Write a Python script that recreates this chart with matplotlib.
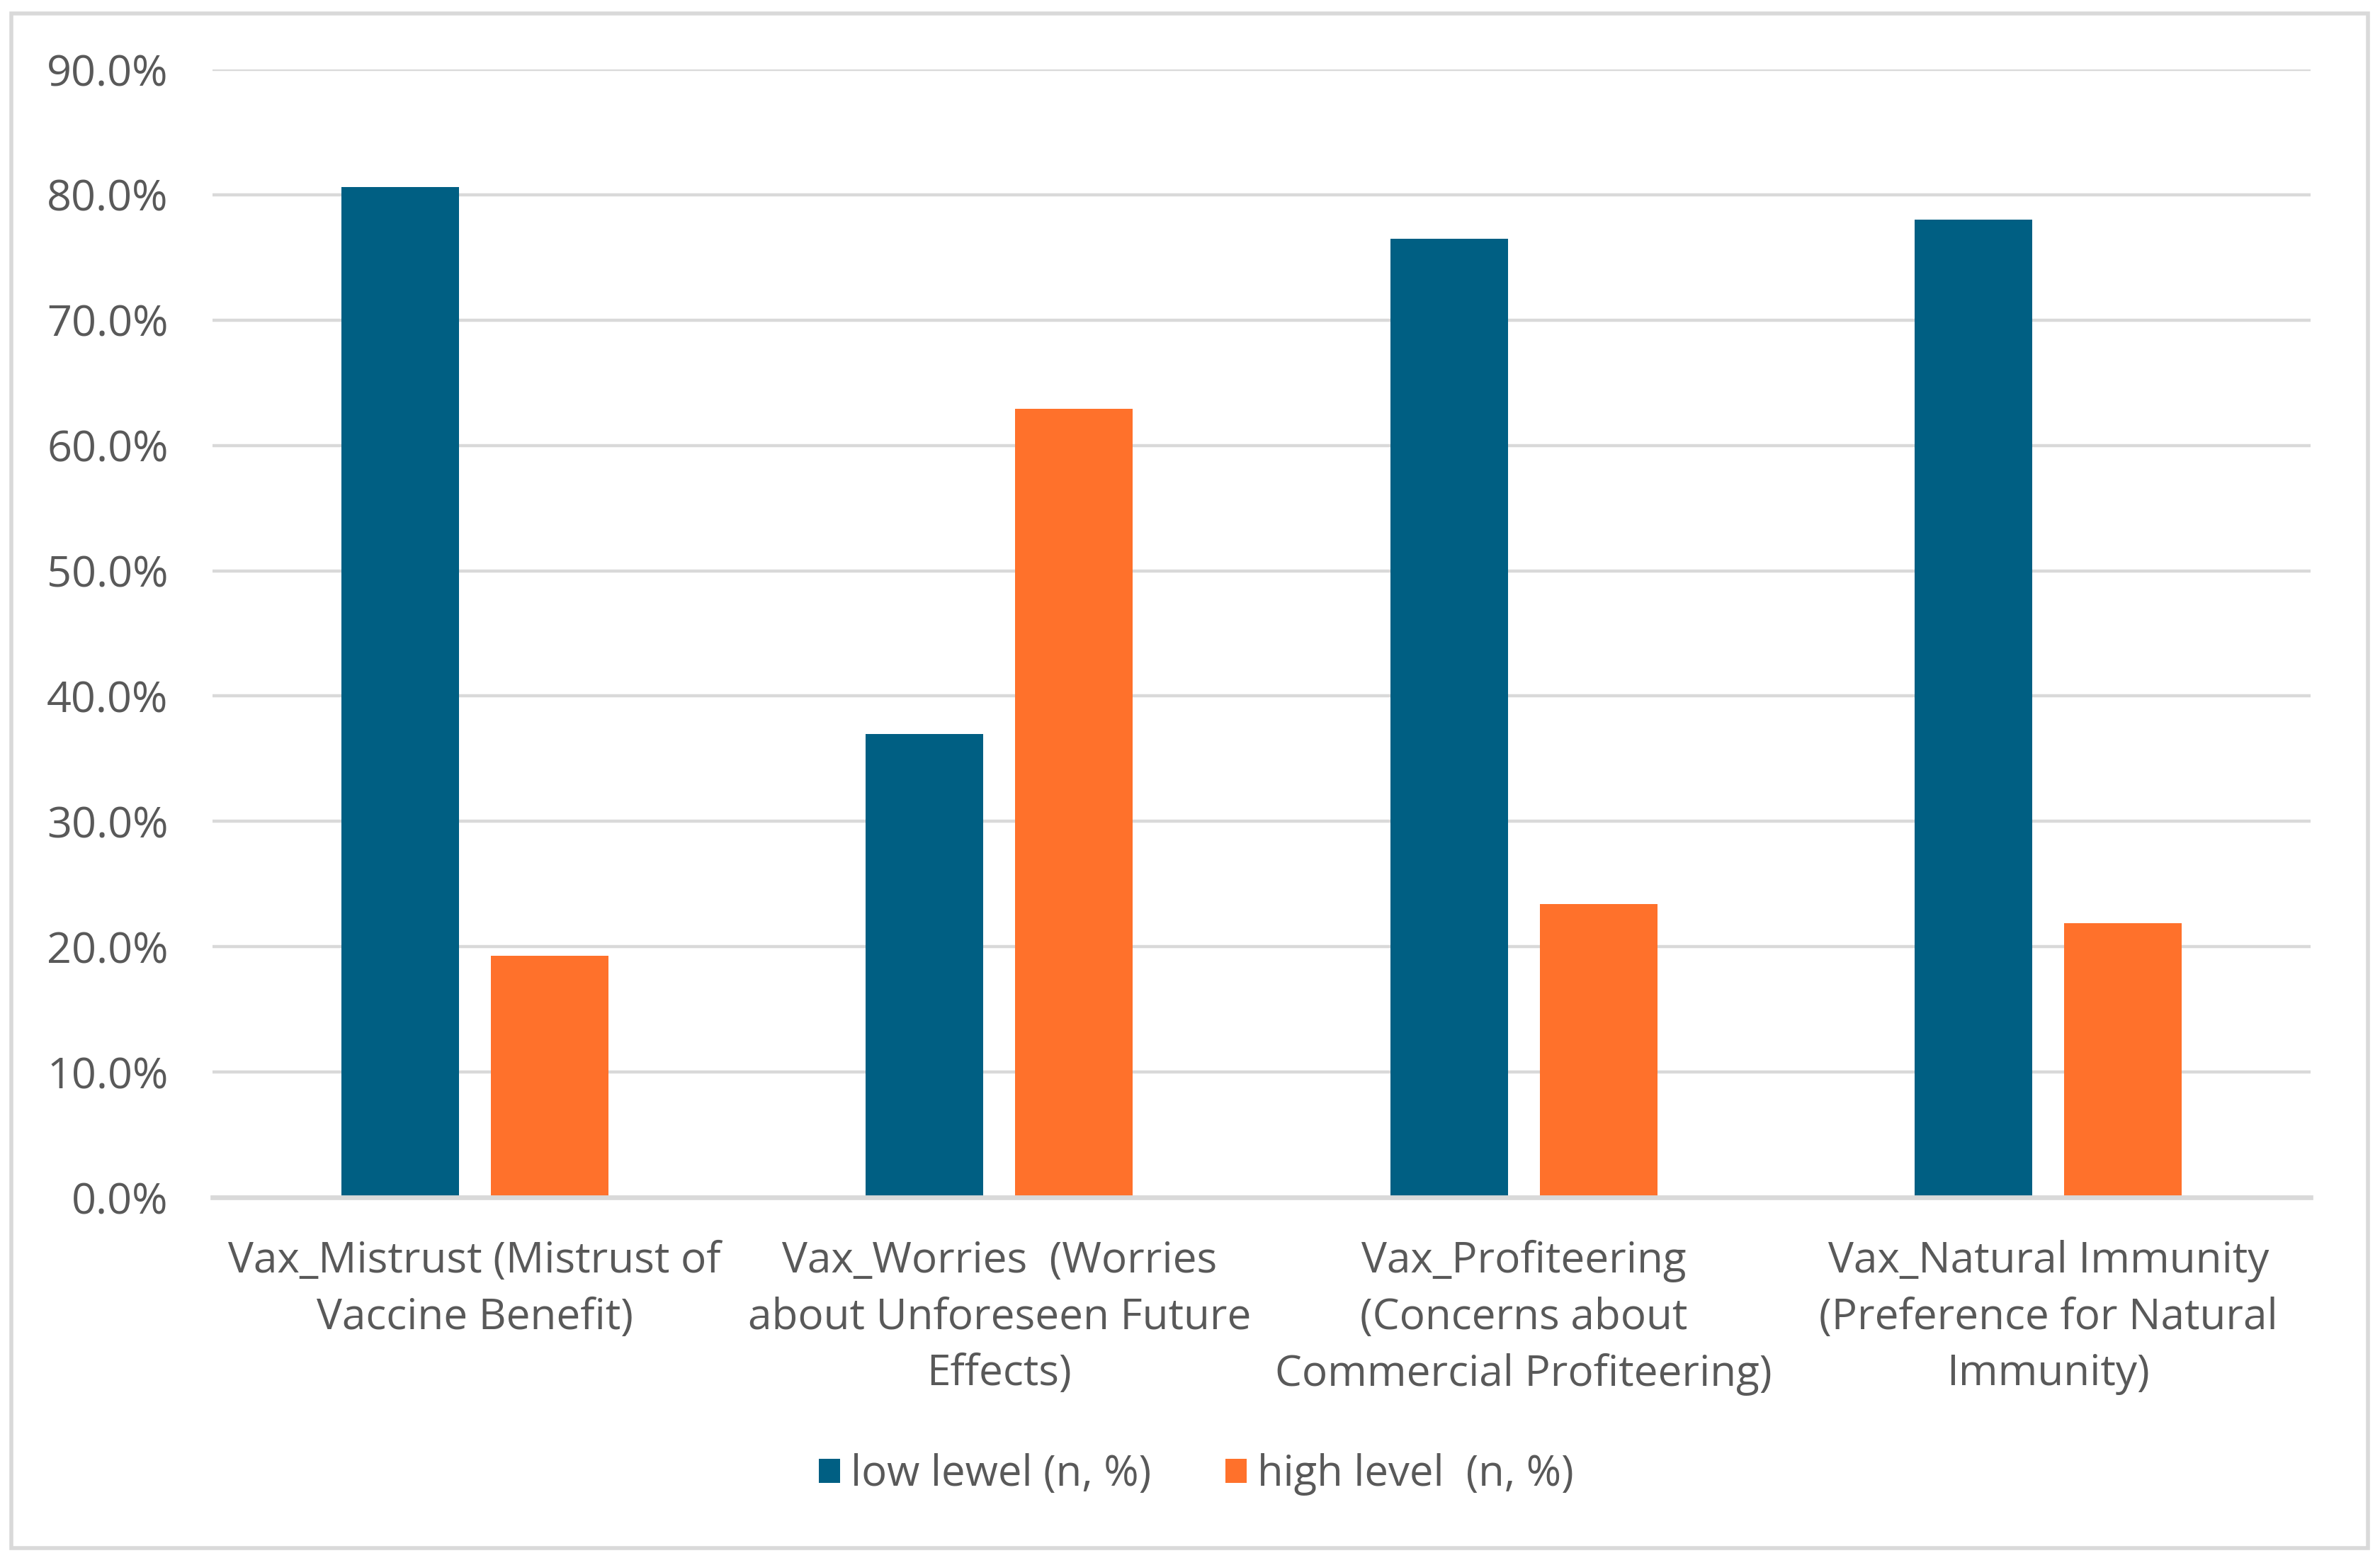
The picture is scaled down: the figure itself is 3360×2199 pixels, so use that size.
import matplotlib
matplotlib.use("Agg")
import matplotlib.pyplot as plt
import numpy as np
from matplotlib.ticker import FuncFormatter, MultipleLocator
from matplotlib.patches import Rectangle

categories = [
    "Vax_Mistrust (Mistrust of\nVaccine Benefit)",
    "Vax_Worries  (Worries\nabout Unforeseen Future\nEffects)",
    "Vax_Profiteering\n(Concerns about\nCommercial Profiteering)",
    "Vax_Natural Immunity\n(Preference for Natural\nImmunity)",
]
low_level = [80.6, 37.0, 76.5, 78.0]
high_level = [19.3, 62.9, 23.4, 21.9]
series_names = ["low lewel (n, %)", "high level  (n, %)"]
colors = ["#005F83", "#FF712B"]

plt.rcParams['font.family'] = ['Open Sans', 'DejaVu Sans']
text_color = "#595959"
grid_color = "#D9D9D9"

W, H = 3360, 2199
dpi = 200
fig = plt.figure(figsize=(W / dpi, H / dpi), dpi=dpi)
fig.patch.set_facecolor("white")

# outer border
fig.patches.append(Rectangle((16 / W, 14 / H), (3343 - 16) / W, (2180 - 14) / H,
                             transform=fig.transFigure, fill=False,
                             edgecolor=grid_color, linewidth=2.0))

ax = fig.add_axes([300 / W, 509 / H, (3262 - 300) / W, (2101 - 509) / H])
x = np.arange(len(categories))
bw = 0.224
off = 0.1425
ax.bar(x - off, low_level, width=bw, color=colors[0], label=series_names[0], zorder=3)
ax.bar(x + off, high_level, width=bw, color=colors[1], label=series_names[1], zorder=3)

ax.set_xlim(-0.5, len(categories) - 0.5)
ax.set_ylim(0, 90)
ax.yaxis.set_major_locator(MultipleLocator(10))
ax.yaxis.set_major_formatter(FuncFormatter(lambda v, p: f"{v:.1f}%"))
ax.grid(axis="y", color=grid_color, linewidth=1.6, zorder=0)
ax.set_axisbelow(True)
for s in ["top", "right", "left"]:
    ax.spines[s].set_visible(False)
ax.spines["bottom"].set_color(grid_color)
ax.spines["bottom"].set_linewidth(2.4)
ax.spines["bottom"].set_zorder(4)
ax.tick_params(axis="both", length=0, colors=text_color)
ax.tick_params(axis="y", labelsize=22, pad=22.5)
ax.set_xticks(x)
ax.set_xticklabels(categories, fontsize=21.7, color=text_color, linespacing=1.43)
ax.tick_params(axis="x", pad=21.5)

leg = fig.legend(loc="center", bbox_to_anchor=(1689 / W, 1 - 2081 / H), ncol=2,
                 frameon=False, fontsize=21.5, handlelength=0.5, handleheight=0.5,
                 handletextpad=0.25, columnspacing=1.75)
for t in leg.get_texts():
    t.set_color(text_color)

fig.savefig("out.png", dpi=dpi, facecolor="white")
